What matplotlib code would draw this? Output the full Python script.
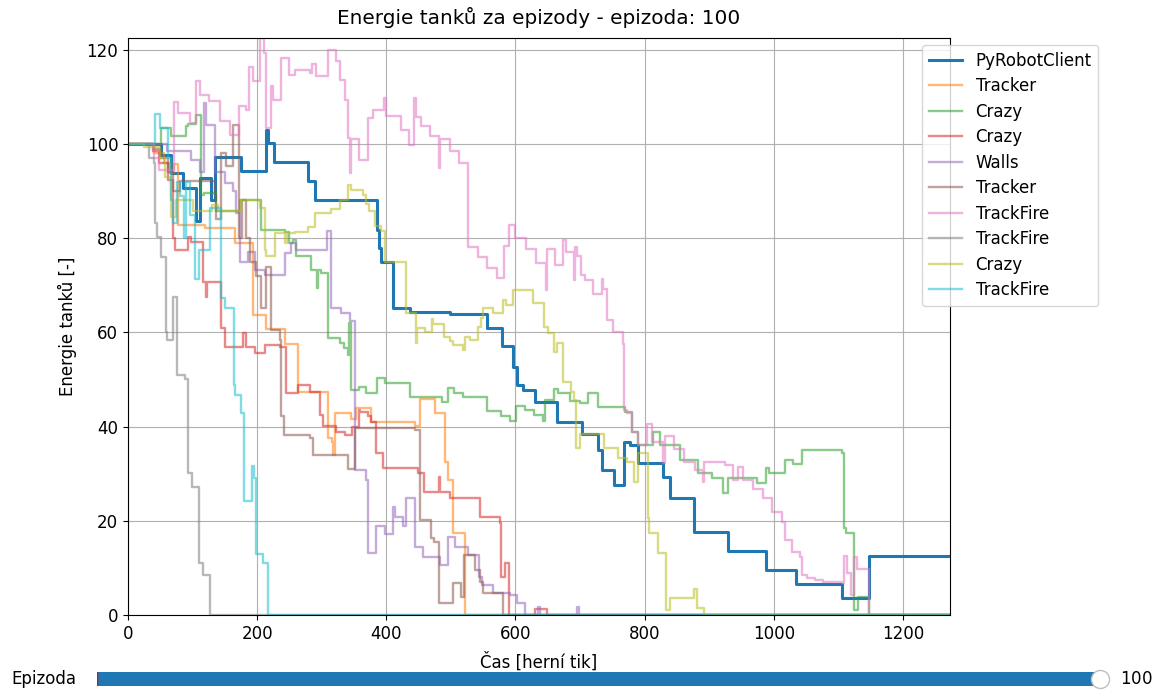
import matplotlib
matplotlib.use("Agg")
import matplotlib.pyplot as plt
from matplotlib.widgets import Slider

plt.rcParams["font.size"] = 12

T_END = 1273
EPISODE = 100

names = ["PyRobotClient", "Tracker", "Crazy", "Crazy", "Walls",
         "Tracker", "TrackFire", "TrackFire", "Crazy", "TrackFire"]

# energie v case (steps-post)
robot_t = [0, 51, 67, 85, 105, 112, 129, 135, 175, 214, 217, 226, 279, 290, 385, 388,
           392, 410, 437, 499, 556, 579, 596, 603, 612, 630, 665, 703, 728, 734, 752,
           768, 778, 789, 829, 840, 876, 929, 988, 1035, 1106, 1148]
robot_e = [100, 97.7, 93.8, 90.7, 83.7, 92.8, 88, 97.2, 94.3, 103, 100.2, 96.2, 92.1, 88.1,
           81.7, 78, 75, 65.2, 64.3, 63.9, 61, 57, 52.7, 48.8, 47.8, 45.2, 41, 38.4, 35,
           30.8, 27.6, 36.7, 36, 32.2, 29.2, 24.8, 17.6, 13.6, 9.6, 6.6, 3.6, 12.5]

tracker1_t = [0, 40, 55, 65, 72, 78, 119, 166, 194, 214, 243, 263, 310, 316, 318, 320,
              345, 353, 376, 445, 452, 476, 491, 496, 504, 522]
tracker1_e = [100, 98, 96, 93.8, 95.8, 82.8, 82.2, 79, 63.7, 60.7, 57.5, 47.3, 37.6, 36.7,
              34, 42.9, 41.6, 43.9, 41, 40.1, 45.9, 42.9, 32.5, 28.7, 17.4, 0]

crazy1_t = [0, 51, 67, 90, 93, 105, 113, 117, 136, 174, 206, 243, 250, 255, 260, 284, 292,
            294, 299, 310, 328, 335, 341, 343, 345, 357, 368, 385, 398, 437, 486, 496,
            505, 518, 556, 577, 592, 601, 615, 628, 642, 645, 659, 666, 685, 700, 713,
            728, 770, 781, 790, 813, 824, 855, 883, 905, 922, 929, 974, 988, 993, 1018,
            1030, 1044, 1105, 1108, 1112, 1125, 1130, 1148]
crazy1_e = [100, 103.4, 101.7, 103.8, 104.2, 106.2, 89.2, 89.6, 85.8, 88, 81.7, 81.3, 79,
            79.6, 76.2, 73.2, 69.4, 73.2, 72.6, 58.8, 57.7, 56.7, 55.2, 62, 47.8, 48.4,
            47.1, 50.3, 49.3, 46.3, 45.2, 48.2, 47.1, 46.3, 43.3, 42.2, 41.2, 44.4, 43.5,
            42.5, 41.2, 45.6, 48, 47.1, 45.4, 45, 47.1, 44.2, 43.1, 38.9, 36.1, 38.9, 36.1,
            32.9, 30.2, 29.1, 26, 29.1, 28, 31.2, 30.2, 32.9, 32.1, 35, 34.4, 18.5, 17.4,
            1, 3.8, 0]

crazy2_t = [0, 38, 48, 62, 70, 73, 93, 98, 116, 121, 123, 144, 150, 178, 182, 197, 212,
            236, 245, 263, 282, 297, 302, 322, 336, 347, 357, 359, 372, 376, 384, 395,
            449, 459, 481, 483, 498, 545, 576, 578, 584, 590, 630, 649]
crazy2_e = [100, 98.5, 96, 92.3, 80, 77.5, 80.3, 79.2, 70.7, 67.5, 70.7, 61, 56.9, 59.9,
            56.9, 55.6, 57.3, 56.9, 47.1, 48.8, 47.3, 42.5, 40.1, 38.9, 38.2, 40, 43.5,
            43.1, 42.2, 41, 34.4, 31.2, 30.2, 26.1, 29.3, 26.1, 24.8, 20.8, 19.5, 8.1,
            11, 0, 1.3, 0]

walls_t = [0, 60, 98, 112, 118, 121, 135, 150, 163, 168, 174, 186, 197, 212, 243, 252,
           260, 308, 314, 330, 344, 352, 369, 372, 384, 398, 411, 414, 426, 431, 445,
           457, 483, 496, 507, 527, 543, 548, 565, 592, 602, 615, 635, 638, 696, 699]
walls_e = [100, 98.5, 96.5, 94, 108.7, 104, 94, 91.7, 90, 85.4, 75, 77, 73.2, 72.2, 76.9,
           79, 77.5, 81.5, 65.2, 64.1, 62.4, 30.8, 28.7, 13.2, 18.9, 17.2, 22.9, 20.8,
           18.9, 24.8, 14.4, 12.3, 10.6, 16.6, 14.4, 12.7, 8.1, 6.4, 4.6, 4.2, 2.5, 0,
           1.7, 0, 1.7, 0]

tracker2_t = [0, 40, 50, 62, 70, 81, 135, 137, 144, 152, 163, 172, 176, 182, 189, 199,
              206, 214, 222, 236, 237, 242, 282, 286, 341, 352, 445, 452, 469, 474, 481,
              504, 515, 520, 538, 545, 550, 581]
tracker2_e = [100, 99, 97, 94, 90, 92.1, 89.2, 84, 98.1, 95.3, 104, 80, 88, 80, 75, 72,
              65.2, 73.9, 60.5, 58.4, 42.2, 38.2, 37.6, 34, 31, 39.7, 39.3, 20.2, 16.3,
              15.5, 2.5, 6.8, 3.8, 12.7, 9.6, 7, 4.6, 0]

trackfire1_t = [0, 40, 48, 71, 78, 96, 105, 112, 125, 142, 158, 172, 183, 188, 194, 205,
                210, 214, 222, 225, 237, 250, 259, 282, 285, 291, 310, 322, 328, 336, 341,
                344, 346, 357, 372, 380, 396, 400, 423, 435, 443, 446, 453, 468, 481, 483,
                498, 513, 526, 542, 556, 572, 582, 590, 600, 617, 632, 647, 649, 661, 674,
                678, 690, 692, 695, 701, 708, 720, 734, 736, 741, 751, 767, 768, 773, 781,
                790, 803, 812, 829, 831, 846, 861, 878, 891, 892, 925, 937, 945, 953, 968,
                983, 998, 1013, 1018, 1029, 1041, 1044, 1052, 1064, 1077, 1106, 1108,
                1113, 1120, 1125, 1129, 1148]
trackfire1_e = [100, 97, 94.5, 109, 106.6, 104.5, 113.4, 110.4, 109.1, 104.9, 101.9, 108,
                107.2, 116.3, 113.4, 122.5, 119.3, 103.4, 112.3, 109.3, 118.3, 114.6, 115.7,
                115.1, 117, 114.4, 119.9, 117.6, 113.6, 109.3, 101.3, 93.8, 101, 96.6,
                105.5, 107.2, 109.8, 105.9, 103, 99.8, 109.8, 105.7, 103.8, 101.7, 94.9,
                101.1, 98.5, 96, 78.2, 76, 73.7, 71.5, 78.3, 82.8, 80, 77.7, 74.8, 69, 77.7,
                74.3, 79.6, 77.1, 71.1, 78.1, 76.2, 72.2, 71.1, 68.2, 71.3, 69.2, 62.6,
                60.1, 57.5, 43.5, 42.9, 38.9, 36.1, 40.5, 36.7, 32.3, 38, 35.2, 32.5, 30.8,
                28.2, 32.5, 31.8, 28.7, 31.4, 28.7, 26.8, 24.8, 21.9, 19.7, 15.9, 13.4,
                12.3, 8.5, 7.9, 7.4, 7, 6.8, 12.5, 8.9, 4.2, 12.3, 9.8, 0]

trackfire2_t = [0, 33, 40, 42, 45, 51, 59, 60, 70, 76, 88, 93, 99, 110, 116, 127]
trackfire2_e = [100, 97, 96, 83.2, 80.3, 76, 60.1, 58.4, 67.5, 51, 50.1, 30.1, 27.2, 11,
                8.5, 0]

crazy3_t = [0, 25, 50, 58, 67, 75, 100, 130, 140, 175, 205, 212, 214, 228, 243, 246, 259,
            279, 290, 315, 328, 341, 345, 364, 368, 373, 383, 392, 398, 431, 446, 447,
            460, 470, 472, 490, 499, 504, 518, 522, 530, 542, 546, 550, 565, 581, 586,
            596, 627, 644, 651, 659, 665, 674, 686, 691, 694, 700, 737, 759, 773, 783,
            790, 806, 807, 821, 833, 840, 877, 881, 892]
crazy3_e = [100, 99.4, 97, 93, 84.5, 88, 85.8, 87, 85.8, 88, 86.4, 77.5, 76.2, 81.1, 79,
            81.1, 81.3, 82.4, 85.4, 86.2, 88, 91.3, 90.2, 89.2, 87.3, 85.8, 82.6, 81.5, 75,
            64.1, 57.8, 61, 60, 62.8, 61.8, 59, 58.2, 57.3, 56.3, 59, 58.4, 61.1, 63, 65.2,
            64.1, 66.9, 65.8, 69, 66.2, 61.1, 59.9, 55.8, 57.8, 49.5, 47.3, 45.6, 35.4,
            38.4, 35.4, 33.3, 32.5, 28.2, 34.4, 20.6, 17.4, 13.2, 1, 3.6, 5.5, 1.5, 0]

trackfire3_t = [0, 42, 49, 62, 66, 70, 76, 80, 86, 90, 96, 104, 110, 127, 144, 150, 164,
                166, 175, 180, 192, 195, 198, 209, 217]
trackfire3_e = [100, 106.4, 103.4, 97, 88, 83.2, 92, 89, 80, 92, 85, 71.3, 77.5, 86.4,
                67.3, 65.2, 48.8, 46.7, 42.9, 24.2, 31.6, 29.1, 13, 11, 0]

series = [
    (robot_t, robot_e), (tracker1_t, tracker1_e), (crazy1_t, crazy1_e),
    (crazy2_t, crazy2_e), (walls_t, walls_e), (tracker2_t, tracker2_e),
    (trackfire1_t, trackfire1_e), (trackfire2_t, trackfire2_e),
    (crazy3_t, crazy3_e), (trackfire3_t, trackfire3_e),
]

fig = plt.figure(figsize=(11.53, 6.93), dpi=100)
ax = fig.add_axes([0.111, 0.1126, 0.713, 0.8326])

for i, ((t, e), name) in enumerate(zip(series, names)):
    tt = list(t) + [T_END]
    ee = list(e) + [e[-1]]
    if i == 0:
        ax.plot(tt, ee, drawstyle="steps-post", lw=2.2, color="C0", label=name)
    else:
        ax.plot(tt, ee, drawstyle="steps-post", lw=1.7, alpha=0.55,
                color=f"C{i}", label=name)

ax.set_xlim(0, T_END)
ax.set_ylim(0, 122.5)
ax.grid(True)
ax.set_title(f"Energie tanků za epizody - epizoda: {EPISODE}", pad=10)
ax.set_xlabel("Čas [herní tik]", labelpad=7)
ax.set_ylabel("Energie tanků [-]", labelpad=7)
ax.legend(loc="upper left", bbox_to_anchor=(0.956, 1.002), labelspacing=0.45)

ax_slider = fig.add_axes([0.084, -0.001, 0.870, 0.042])
slider = Slider(ax_slider, "Epizoda", 1, 100, valinit=1, valstep=1,
                handle_style={"size": 13})
slider.set_val(EPISODE)

fig.savefig("out.png", dpi=100)
